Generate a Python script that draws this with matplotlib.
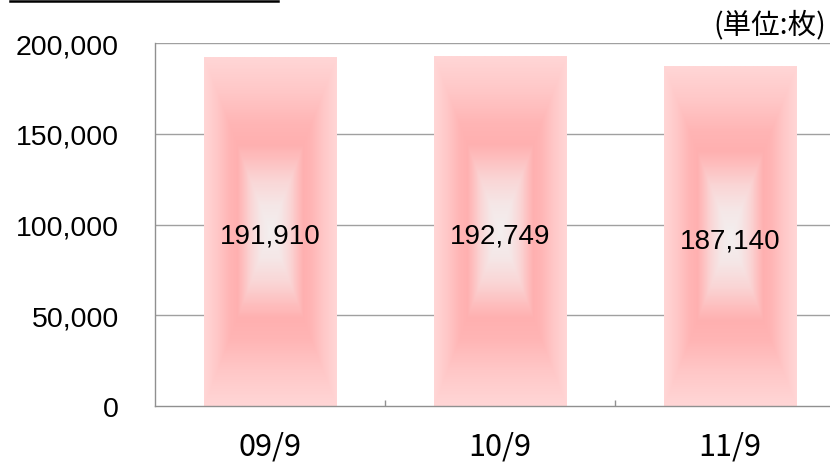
import numpy as np
import matplotlib
matplotlib.use("Agg")
import matplotlib.pyplot as plt
from matplotlib.colors import LinearSegmentedColormap
from matplotlib.lines import Line2D
import matplotlib.transforms as mtransforms

categories = ["09/9", "10/9", "11/9"]
values = [191910, 192749, 187140]
y_ticks = [0, 50000, 100000, 150000, 200000]
y_tick_labels = ["0", "50,000", "100,000", "150,000", "200,000"]
unit_label = "(単位:枚)"

W, H = 830, 464
fig = plt.figure(figsize=(W / 100, H / 100), dpi=100)
ax = fig.add_axes([155 / W, (H - 407) / H, 690 / W, 363 / H])

# gradient (rectangular "from centre" fill)
cmap = LinearSegmentedColormap.from_list(
    "pinkrect",
    [(0.00, "#F3EFEF"), (0.15, "#F5E7E7"), (0.30, "#FAD5D5"), (0.42, "#FEBEBE"),
     (0.50, "#FFB0B0"), (0.62, "#FFB5B5"), (0.80, "#FFC7C7"), (1.00, "#FFD6D6")])
n = 240
u = np.linspace(-1, 1, n)
U, V = np.meshgrid(u, u)
D = np.maximum(np.abs(U), np.abs(V))
img = cmap(D)

bar_w = 0.574
lbl_off = mtransforms.offset_copy(ax.transData, fig=fig, x=0, y=-4, units="dots")
for i, val in enumerate(values):
    ax.imshow(img, extent=[i - bar_w / 2, i + bar_w / 2, 0, val], aspect="auto",
              interpolation="bilinear", zorder=2)
    ax.text(i, val / 2, f"{val:,}", ha="center", va="center", fontsize=20,
            family=["Liberation Sans", "DejaVu Sans"], color="black", zorder=3,
            transform=lbl_off)
ax.set_xlim(-0.5, len(categories) - 0.5)
ax.set_ylim(0, 200000)

# grid
for t in y_ticks[1:]:
    ax.axhline(t, color="#A0A0A0", lw=1.0, zorder=1)

for s in ["top", "right"]:
    ax.spines[s].set_visible(False)
for s in ["left", "bottom"]:
    ax.spines[s].set_color("#909090")
    ax.spines[s].set_linewidth(1.0)
    ax.spines[s].set_zorder(4)

ax.set_yticks(y_ticks)
ax.set_yticklabels(y_tick_labels, fontsize=20.5, family=["Liberation Sans", "DejaVu Sans"])
ax.tick_params(axis="y", length=0, pad=26)

ax.set_xticks(range(len(categories)))
ax.set_xticklabels(categories, fontsize=22, family=["Noto Sans CJK JP", "DejaVu Sans"])
ax.tick_params(axis="x", length=0, pad=18)
ax.set_xticks([0.5, 1.5], minor=True)
ax.tick_params(axis="x", which="minor", direction="in", length=4, width=1, color="#909090")

fig.text(826 / W, 1 - 25 / H, unit_label, ha="right", va="center", fontsize=20.5,
         family=["Noto Sans CJK JP", "DejaVu Sans"])

fig.add_artist(Line2D([10 / W, 278 / W], [1 - 2 / H, 1 - 2 / H], color="black", lw=1.8,
                      transform=fig.transFigure))

fig.savefig("out.png", dpi=100)
